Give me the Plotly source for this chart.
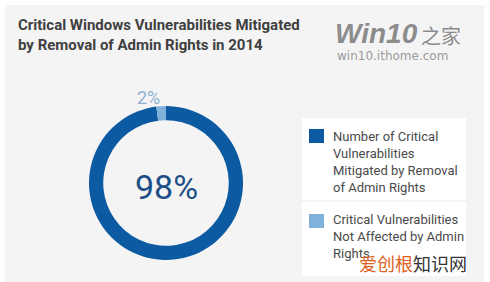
import plotly.graph_objects as go

W, H = 490, 282

labels = ["Number of Critical<br>Vulnerabilities<br>Mitigated by Removal<br>of Admin Rights",
          "Critical Vulnerabilities<br>Not Affected by Admin<br>Rights"]
values = [98, 2]
colors = ["#0b5aa2", "#7fb1da"]
title_lines = ["Critical Windows Vulnerabilities Mitigated",
               "by Removal of Admin Rights in 2014"]

def px(x):
    return x / W

def py(y):
    return 1 - y / H

fig = go.Figure()
fig.add_trace(go.Pie(
    labels=[l.replace("<br>", " ") for l in labels],
    values=values,
    marker=dict(colors=colors, line=dict(width=0)),
    hole=0.815,
    sort=False,
    direction="clockwise",
    rotation=0,
    textinfo="none",
    hoverinfo="label+percent",
    showlegend=False,
    domain=dict(x=[px(89), px(243)], y=[py(260), py(106)]),
))

shapes = [
    dict(type="rect", xref="paper", yref="paper", x0=px(5), x1=px(484), y0=0, y1=py(5),
         fillcolor="#f4f4f5", line=dict(width=0), layer="below"),
    dict(type="rect", xref="paper", yref="paper", x0=px(302), x1=px(466), y0=py(200), y1=py(118),
         fillcolor="#ffffff", line=dict(width=0), layer="below"),
    dict(type="rect", xref="paper", yref="paper", x0=px(302), x1=px(466), y0=py(276), y1=py(202),
         fillcolor="#ffffff", line=dict(width=0), layer="below"),
]
sq_top = [129, 214]
txt_top = [127, 210]
annotations = []
for i in range(len(values)):
    shapes.append(dict(type="rect", xref="paper", yref="paper", x0=px(309), x1=px(324),
                       y0=py(sq_top[i] + 14), y1=py(sq_top[i]),
                       fillcolor=colors[i], line=dict(width=0)))
    annotations.append(dict(text=labels[i], xref="paper", yref="paper", x=px(331), y=py(txt_top[i]),
                            xanchor="left", yanchor="top", align="left", showarrow=False,
                            font=dict(family="Roboto", size=13, color="#4a4a4a")))

total = sum(values)
annotations += [
    dict(text=f"{round(values[0] / total * 100)}%", xref="paper", yref="paper", x=px(166), y=py(187),
         xanchor="center", yanchor="middle",
         showarrow=False, font=dict(family="Roboto", size=34, color="#1d4f86")),
    dict(text=f"{round(values[1] / total * 100)}%", xref="paper", yref="paper", x=px(148), y=py(97),
         xanchor="center", yanchor="middle",
         showarrow=False, font=dict(family="Roboto", size=18, color="#8eb0cf")),
    dict(text="<b>" + title_lines[0] + "</b><br><b>" + title_lines[1] + "</b>", xref="paper", yref="paper",
         x=px(16), y=py(14), xanchor="left", yanchor="top", align="left", showarrow=False,
         font=dict(family="Roboto", size=15, color="#404040")),
    dict(text="<b><i>Win10</i></b>", xref="paper", yref="paper", x=px(333), y=py(34),
         xanchor="left", yanchor="middle", showarrow=False,
         font=dict(family="Liberation Sans", size=28, color="#8c8c8c")),
    dict(text="之家", xref="paper", yref="paper", x=px(419), y=py(35),
         xanchor="left", yanchor="middle", showarrow=False,
         font=dict(family="Noto Sans CJK SC", size=20, color="#8c8c8c")),
    dict(text="win10.ithome.com", xref="paper", yref="paper", x=px(335), y=py(56),
         xanchor="left", yanchor="middle", showarrow=False,
         font=dict(family="DejaVu Sans", size=12, color="#9a9a9a")),
    dict(text="<span style='color:#e0601e'>爱创根</span>知识网", xref="paper", yref="paper",
         x=px(357), y=py(263), xanchor="left", yanchor="middle", showarrow=False,
         font=dict(family="Noto Sans CJK SC", size=18, color="#333333")),
]

fig.update_layout(
    width=W, height=H,
    margin=dict(l=0, r=0, t=0, b=0),
    paper_bgcolor="#ffffff",
    plot_bgcolor="#ffffff",
    shapes=shapes,
    annotations=annotations,
)

fig.write_html("out.html")
